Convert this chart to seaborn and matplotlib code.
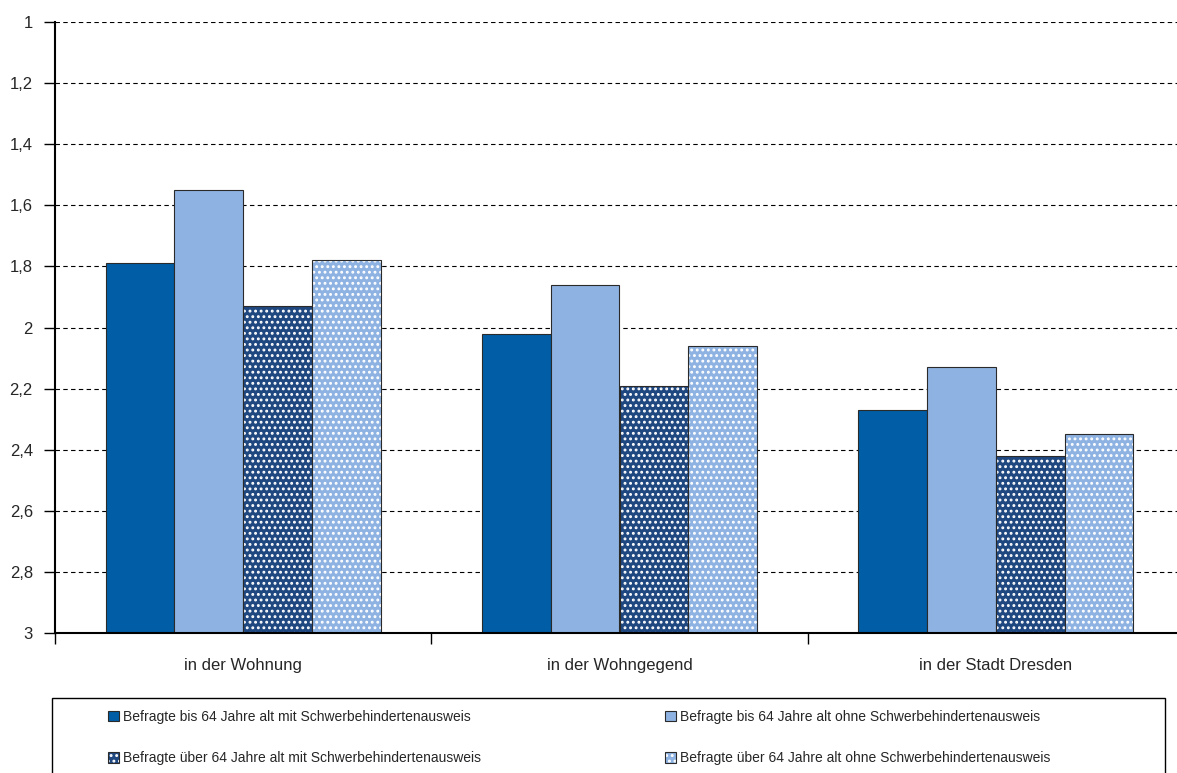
import matplotlib
matplotlib.use("Agg")
import matplotlib.pyplot as plt
import seaborn as sns
import pandas as pd
from matplotlib.colors import to_rgba
from matplotlib.patches import Rectangle
from matplotlib.ticker import MultipleLocator, FuncFormatter, FixedLocator

sns.set_style("white")
plt.rcParams['font.family'] = ['Liberation Sans Narrow', 'Liberation Sans', 'DejaVu Sans']
plt.rcParams['hatch.linewidth'] = 1.3

# data (mean rating, 1 = best)
orte = ['in der Wohnung', 'in der Wohngegend', 'in der Stadt Dresden']
gruppen = ['Befragte bis 64 Jahre alt mit Schwerbehindertenausweis',
           'Befragte bis 64 Jahre alt ohne Schwerbehindertenausweis',
           'Befragte über 64 Jahre alt mit Schwerbehindertenausweis',
           'Befragte über 64 Jahre alt ohne Schwerbehindertenausweis']
bis64_mit = [1.79, 2.02, 2.27]
bis64_ohne = [1.55, 1.86, 2.13]
ueber64_mit = [1.93, 2.19, 2.42]
ueber64_ohne = [1.78, 2.06, 2.35]

farben = ['#005DA6', '#8EB3E2', '#1F4780', '#8EB3E2']
muster = [None, None, '...', '...']

werte = [bis64_mit, bis64_ohne, ueber64_mit, ueber64_ohne]
rows = []
for g, vals in zip(gruppen, werte):
    for o, v in zip(orte, vals):
        rows.append({'ort': o, 'gruppe': g, 'wert': v})
df = pd.DataFrame(rows)

W, H = 1177, 773
fig = plt.figure(figsize=(W / 100, H / 100), dpi=100)
ax = fig.add_axes([55 / W, 1 - 633 / H, (1184 - 55) / W, (633 - 22) / H])

sns.barplot(data=df, x='ort', y='wert', hue='gruppe', hue_order=gruppen,
            palette=farben, saturation=1, width=0.73, errorbar=None,
            legend=False, edgecolor='#2a2a2a', linewidth=0.8, ax=ax)

# bars start at 3 (worst) and grow upward on the inverted scale
for cont, hatch in zip(ax.containers, muster):
    for p in cont.patches:
        v = p.get_height()
        p.set_y(3)
        p.set_height(v - 3)
        if hatch:
            p.set_hatch(hatch)
            p._hatch_color = to_rgba('white')

ax.set_ylim(3, 1)
ax.set_xlim(-0.5, 2.5)
ax.yaxis.set_major_locator(MultipleLocator(0.2))
ax.yaxis.set_major_formatter(FuncFormatter(lambda v, _: f'{round(v, 1):g}'.replace('.', ',')))
ax.set_axisbelow(True)
ax.yaxis.grid(True, linestyle=(0, (4, 3)), color='black', linewidth=0.8)

for s in ['top', 'right']:
    ax.spines[s].set_visible(False)
for s in ['left', 'bottom']:
    ax.spines[s].set_color('black')
    ax.spines[s].set_linewidth(1.5)

ax.tick_params(axis='y', length=8, width=1, color='black', labelsize=12, pad=8, left=True)
ax.tick_params(axis='x', which='major', length=0, labelsize=12, pad=18)
ax.xaxis.set_minor_locator(FixedLocator([-0.5, 0.5, 1.5, 2.5]))
ax.tick_params(axis='x', which='minor', length=8, width=1, color='black', bottom=True)
ax.set_xlabel('')
ax.set_ylabel('')

order = [0, 2, 1, 3]
handles = [ax.containers[i] for i in order]
labels = [gruppen[i] for i in order]
leg = fig.legend(handles, labels, ncol=2, loc='upper left',
                 bbox_to_anchor=(108 / W, 1 - 710 / H, (1050 - 108) / W, 0),
                 mode='expand', fontsize=10, frameon=False, borderpad=0,
                 labelspacing=1.95, handlelength=0.8, handleheight=0.8,
                 handletextpad=0.25, borderaxespad=0)

# legend box, runs off the bottom edge like the original
fig.patches.append(Rectangle((52 / W, -0.02), (1165 - 52) / W, (0.02 + 1 - 698 / H),
                             transform=fig.transFigure, fill=False,
                             edgecolor='black', linewidth=1))

fig.savefig('out.png', dpi=100)
